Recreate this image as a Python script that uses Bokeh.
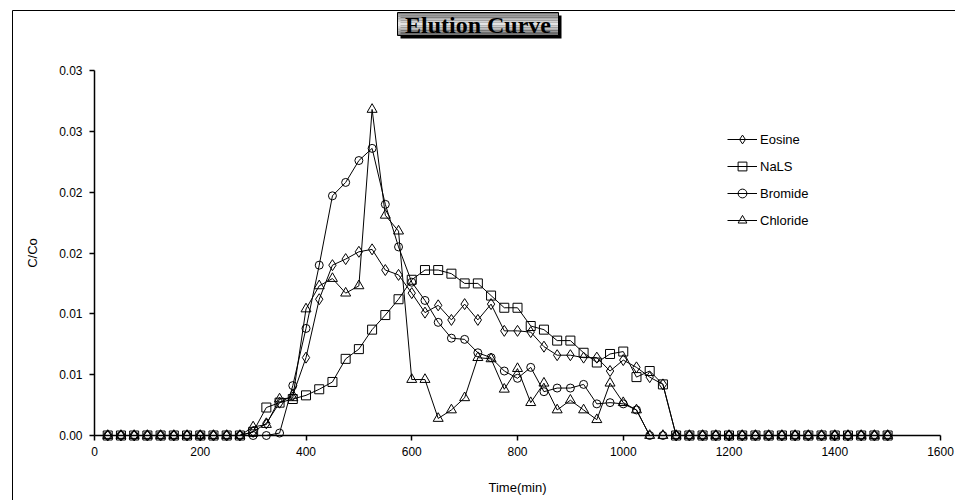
from bokeh.plotting import figure
from bokeh.models import Range1d, FixedTicker, Legend, LegendItem, Label, BoxAnnotation
from bokeh.embed import file_html
from bokeh.resources import INLINE

# ---- data -------------------------------------------------------------
times = [25, 50, 75, 100, 125, 150, 175, 200, 225, 250, 275,
         300, 325, 350, 375, 400, 425, 450, 475, 500, 525,
         550, 575, 600, 625, 650, 675, 700, 725, 750, 775,
         800, 825, 850, 875, 900, 925, 950, 975, 1000, 1025,
         1050, 1075,
         1100, 1125, 1150, 1175, 1200, 1225, 1250, 1275, 1300, 1325,
         1350, 1375, 1400, 1425, 1450, 1475, 1500]

eosine = [0, 0, 0, 0, 0, 0, 0, 0, 0, 0, 0,
          0.0003, 0.0010, 0.0027, 0.0033, 0.0064, 0.0112, 0.0140, 0.0145, 0.0151, 0.0153,
          0.0136, 0.0132, 0.0117, 0.0101, 0.0107, 0.0095, 0.0108, 0.0095, 0.0108, 0.0086,
          0.0086, 0.0085, 0.0073, 0.0066, 0.0066, 0.0064, 0.0064, 0.0053, 0.0062, 0.0056,
          0.0048, 0.0042,
          0, 0, 0, 0, 0, 0, 0, 0, 0, 0, 0, 0, 0, 0, 0, 0, 0]

nals = [0, 0, 0, 0, 0, 0, 0, 0, 0, 0, 0,
        0.0003, 0.0023, 0.0027, 0.0030, 0.0033, 0.0038, 0.0044, 0.0063, 0.0071, 0.0087,
        0.0099, 0.0112, 0.0128, 0.0136, 0.0136, 0.0133, 0.0125, 0.0125, 0.0115, 0.0105,
        0.0105, 0.0090, 0.0087, 0.0078, 0.0078, 0.0068, 0.0060, 0.0067, 0.0069, 0.0048,
        0.0053, 0.0042,
        0, 0, 0, 0, 0, 0, 0, 0, 0, 0, 0, 0, 0, 0, 0, 0, 0]

bromide = [0, 0, 0, 0, 0, 0, 0, 0, 0, 0, 0,
           0, 0, 0.0002, 0.0041, 0.0088, 0.0140, 0.0197, 0.0208, 0.0226, 0.0236,
           0.0190, 0.0155, 0.0126, 0.0111, 0.0093, 0.0080, 0.0079, 0.0068, 0.0064, 0.0053,
           0.0047, 0.0056, 0.0036, 0.0039, 0.0039, 0.0042, 0.0026, 0.0027, 0.0026, 0.0021,
           0, 0,
           0, 0, 0, 0, 0, 0, 0, 0, 0, 0, 0, 0, 0, 0, 0, 0, 0]

chloride = [0, 0, 0, 0, 0, 0, 0, 0, 0, 0, 0,
            0.0007, 0.0009, 0.0030, 0.0031, 0.0104, 0.0123, 0.0129, 0.0117, 0.0123, 0.0268,
            0.0181, 0.0168, 0.0046, 0.0046, 0.0014, 0.0021, 0.0031, 0.0064, 0.0063, 0.0038,
            0.0055, 0.0027, 0.0043, 0.0021, 0.0029, 0.0021, 0.0013, 0.0043, 0.0027, 0.0021,
            0, 0,
            0, 0, 0, 0, 0, 0, 0, 0, 0, 0, 0, 0, 0, 0, 0, 0, 0]

series_names = ["Eosine", "NaLS", "Bromide", "Chloride"]

x_min, x_max = 0, 1600
y_min, y_max = 0.0, 0.03
x_ticks = [0, 200, 400, 600, 800, 1000, 1200, 1400, 1600]
y_ticks = [0.0, 0.005, 0.01, 0.015, 0.02, 0.025, 0.03]
y_tick_labels = ["0.00", "0.01", "0.01", "0.02", "0.02", "0.03", "0.03"]

title_text = "Elution Curve"
x_title = "Time(min)"
y_title = "C/Co"

# ---- layout geometry (page pixels) -----------------------------------
W, H = 955, 500
PX_LEFT, PX_RIGHT = 94, 940      # x = 0 and x = 1600
PY_BOTTOM, PY_TOP = 435, 70      # y = 0 and y = 0.03

sx = (PX_RIGHT - PX_LEFT) / (x_max - x_min)
sy = (PY_BOTTOM - PY_TOP) / (y_max - y_min)
x_start = x_min - PX_LEFT / sx
x_end = x_max + (W - PX_RIGHT) / sx
y_start = y_min - (H - PY_BOTTOM) / sy
y_end = y_max + PY_TOP / sy


def px2x(px):
    return x_start + px / sx


def py2y(py):
    return y_end - py / sy


p = figure(width=W, height=H, output_backend="svg", toolbar_location=None,
           x_range=Range1d(x_start, x_end), y_range=Range1d(y_start, y_end),
           min_border=0, min_border_left=0, min_border_right=0,
           min_border_top=0, min_border_bottom=0)
p.outline_line_color = None
p.xgrid.visible = False
p.ygrid.visible = False
p.background_fill_color = "white"
p.border_fill_color = "white"

font = "Liberation Sans"

xa = p.xaxis[0]
xa.ticker = FixedTicker(ticks=x_ticks)
xa.fixed_location = y_min
xa.bounds = (x_min, x_max)
xa.axis_label = x_title
xa.axis_label_standoff = 21
xa.major_label_standoff = 6

ya = p.yaxis[0]
ya.ticker = FixedTicker(ticks=y_ticks)
ya.fixed_location = x_min
ya.bounds = (y_min, y_max)
ya.major_label_overrides = {t: s for t, s in zip(y_ticks, y_tick_labels)}
ya.axis_label = y_title
ya.axis_label_standoff = 16
ya.major_label_standoff = 7

for ax in (xa, ya):
    ax.axis_line_color = "black"
    ax.axis_line_width = 1.5
    ax.major_tick_line_color = "black"
    ax.major_tick_line_width = 1.5
    ax.major_tick_out = 5
    ax.major_tick_in = 0
    ax.minor_tick_line_color = None
    ax.major_label_text_font = font
    ax.major_label_text_font_size = "12px"
    ax.major_label_text_color = "black"
    ax.axis_label_text_font = font
    ax.axis_label_text_font_size = "13px"
    ax.axis_label_text_font_style = "normal"
    ax.axis_label_text_color = "black"

# ---- outer border ----------------------------------------------------
p.add_layout(BoxAnnotation(left=px2x(12), right=px2x(W + 2), top=py2y(10), bottom=py2y(H + 2),
                           fill_alpha=0, line_color="black", line_alpha=1, line_width=1,
                           level="underlay"))

# ---- series -----------------------------------------------------------
values = [eosine, nals, bromide, chloride]
markers = [("diamond", 11), ("square", 9), ("circle", 8), ("triangle", 10)]
items = []
for name, vals, (mk, sz) in zip(series_names, values, markers):
    ln = p.line(times, vals, line_color="black", line_width=1)
    sc = p.scatter(times, vals, marker=mk, size=sz,
                   line_color="black", line_width=1, fill_color=None)
    items.append(LegendItem(label=name, renderers=[ln, sc]))

legend = Legend(items=items, location=(727, 269), padding=0, margin=0,
                border_line_color=None, background_fill_alpha=0,
                glyph_width=30, glyph_height=22, label_height=22, spacing=5,
                label_standoff=3, label_text_font=font, label_text_font_size="13px",
                label_text_color="black")
p.add_layout(legend, "center")

# ---- chart title box ------------------------------------------------
bx0, bx1, by0, by1 = 397, 558, 12, 35
shadow = 3
p.add_layout(BoxAnnotation(left=px2x(bx0 + shadow), right=px2x(bx1 + shadow),
                           top=py2y(by0 + shadow), bottom=py2y(by1 + shadow),
                           fill_color="black", fill_alpha=1, line_color=None))
n_bands = 14
for i in range(n_bands):
    t0 = by0 + (by1 - by0) * i / n_bands
    t1 = by0 + (by1 - by0) * (i + 1) / n_bands
    d = abs((i + 0.5) / n_bands - 0.5) * 2
    g = int(238 - 128 * d)
    p.add_layout(BoxAnnotation(left=px2x(bx0), right=px2x(bx1), top=py2y(t0), bottom=py2y(t1),
                               fill_color="#%02x%02x%02x" % (g, g, g), fill_alpha=1,
                               line_color=None))
p.add_layout(BoxAnnotation(left=px2x(bx0), right=px2x(bx1), top=py2y(by0), bottom=py2y(by1),
                           fill_alpha=0, line_color="black", line_alpha=1, line_width=1))
p.add_layout(Label(x=px2x((bx0 + bx1) / 2), y=py2y((by0 + by1) / 2 + 0.5), text=title_text,
                   text_align="center", text_baseline="middle",
                   text_font="Liberation Serif", text_font_style="bold",
                   text_font_size="24px", text_color="black"))

open("out.html", "w").write(file_html(p, INLINE))
